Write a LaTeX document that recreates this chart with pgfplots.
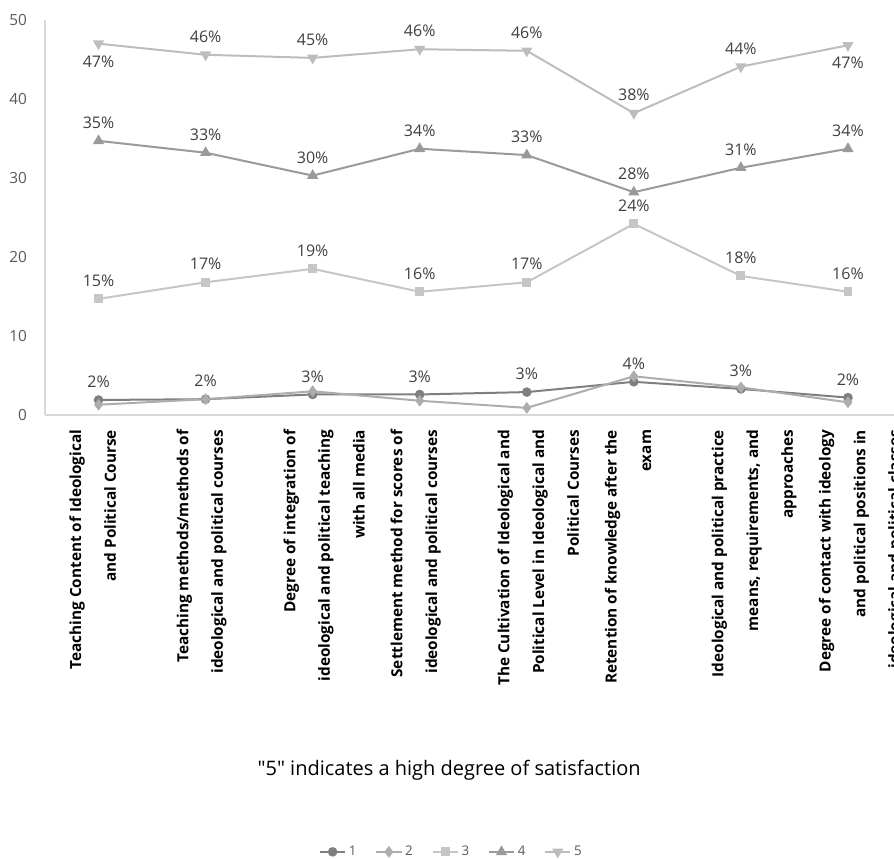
\documentclass[border=0pt]{standalone}
\usepackage{fontspec}
\setmainfont{Open Sans}
\usepackage{pgfplots}
\pgfplotsset{compat=1.18}
\usepackage{pgfplotstable}

\definecolor{cA}{HTML}{7F7F7F}
\definecolor{cB}{HTML}{ADADAD}
\definecolor{cC}{HTML}{C6C6C6}
\definecolor{cD}{HTML}{9A9A9A}
\definecolor{cE}{HTML}{BDBDBD}
\definecolor{axisgray}{HTML}{D9D9D9}
\definecolor{txtgray}{HTML}{595959}
\definecolor{lblgray}{HTML}{404040}

\pgfplotstableread{
x y lab
1 1.9 2
2 2.0 2
3 2.6 3
4 2.6 3
5 2.9 3
6 4.2 4
7 3.3 3
8 2.2 2
}\sone
\pgfplotstableread{
x y
1 1.3
2 2.0
3 3.0
4 1.8
5 0.9
6 4.9
7 3.5
8 1.6
}\stwo
\pgfplotstableread{
x y lab
1 14.7 15
2 16.8 17
3 18.5 19
4 15.6 16
5 16.8 17
6 24.2 24
7 17.6 18
8 15.6 16
}\sthree
\pgfplotstableread{
x y lab
1 34.7 35
2 33.2 33
3 30.3 30
4 33.7 34
5 32.9 33
6 28.2 28
7 31.3 31
8 33.7 34
}\sfour
\pgfplotstableread{
x y lab sh
1 47.0 47 -13.5
2 45.6 46 13.5
3 45.2 45 13.5
4 46.3 46 13.5
5 46.1 46 13.5
6 38.2 38 13.5
7 44.1 44 13.5
8 46.8 47 -13.5
}\sfive

\begin{document}
\begin{tikzpicture}[x=0.75pt,y=0.75pt]
\useasboundingbox (0,0) rectangle (894,859);
\begin{scope}[overlay]
\begin{axis}[
  at={(33.75pt,333pt)}, anchor=south west,
  scale only axis,
  width=636.75pt, height=296.25pt,
  xmin=0.5, xmax=8.43,
  ymin=0, ymax=50,
  ytick={0,10,...,50},
  xtick={1,...,8},
  axis lines=left,
  axis line style={axisgray, line width=0.8pt, -},
  major tick length=0pt,
  clip=false,
  /pgf/number format/assume math mode=true,
  yticklabel style={xshift=-10pt, font=\fontsize{11.5}{13}\selectfont, text=txtgray},
  xticklabels={
    {Teaching Content of Ideological\\and Political Course},
    {Teaching methods/methods of\\ideological and political courses},
    {Degree of integration of\\ideological and political teaching\\with all media},
    {Settlement method for scores of\\ideological and political courses},
    {The Cultivation of Ideological and\\Political Level in Ideological and\\Political Courses},
    {Retention of knowledge after the\\exam},
    {Ideological and political practice\\means, requirements, and\\approaches},
    {Degree of contact with ideology\\and political positions in\\ideological and political classes}
  },
  xticklabel style={xshift=-22pt, yshift=-11pt, rotate=90, anchor=north east, inner sep=0pt,
    align=right, font=\bfseries\fontsize{11.5}{26}\selectfont, text=black},
  xlabel={\textquotedbl 5\textquotedbl{} indicates a high degree of satisfaction},
  xlabel style={at={(0.476,-0.899)}, anchor=center, font=\fontsize{15}{17}\selectfont, text=black},
  legend style={at={(0.479,-1.106)}, anchor=center, draw=none, legend columns=5,
    font=\fontsize{10}{12}\selectfont, text=txtgray,
    /tikz/every even column/.append style={column sep=12pt}},
  legend image code/.code={
    \draw[#1, mark repeat=2, mark phase=2] plot coordinates {(0pt,0pt) (9.5pt,0pt) (19pt,0pt)};},
  every axis plot/.append style={line width=1.5pt},
  nodes near coords={\pgfplotspointmeta\%},
  every node near coord/.append style={font=\fontsize{12}{14}\selectfont, text=lblgray, anchor=center, yshift=13.5pt},
]
\addplot[color=cA, mark=*, mark size=2.8pt, mark options={solid, fill=cA},
  point meta=explicit symbolic] table[x=x, y=y, meta=lab] {\sone};
\addlegendentry{1}
\addplot[color=cB, mark=diamond*, mark size=3.2pt, mark options={solid, fill=cB},
  nodes near coords={}] table[x=x, y=y] {\stwo};
\addlegendentry{2}
\addplot[color=cC, mark=square*, mark size=2.6pt, mark options={solid, fill=cC},
  point meta=explicit symbolic] table[x=x, y=y, meta=lab] {\sthree};
\addlegendentry{3}
\addplot[color=cD, mark=triangle*, mark size=3.4pt, mark options={solid, fill=cD},
  point meta=explicit symbolic] table[x=x, y=y, meta=lab] {\sfour};
\addlegendentry{4}
\addplot[color=cE, mark=triangle*, mark size=3.4pt, mark options={solid, fill=cE, rotate=180},
  point meta=explicit symbolic,
  visualization depends on={\thisrow{sh} \as \lsh},
  every node near coord/.append style={yshift=-13.5pt, yshift=\lsh pt}] table[x=x, y=y, meta=lab] {\sfive};
\addlegendentry{5}
\end{axis}
\end{scope}
\end{tikzpicture}
\end{document}
